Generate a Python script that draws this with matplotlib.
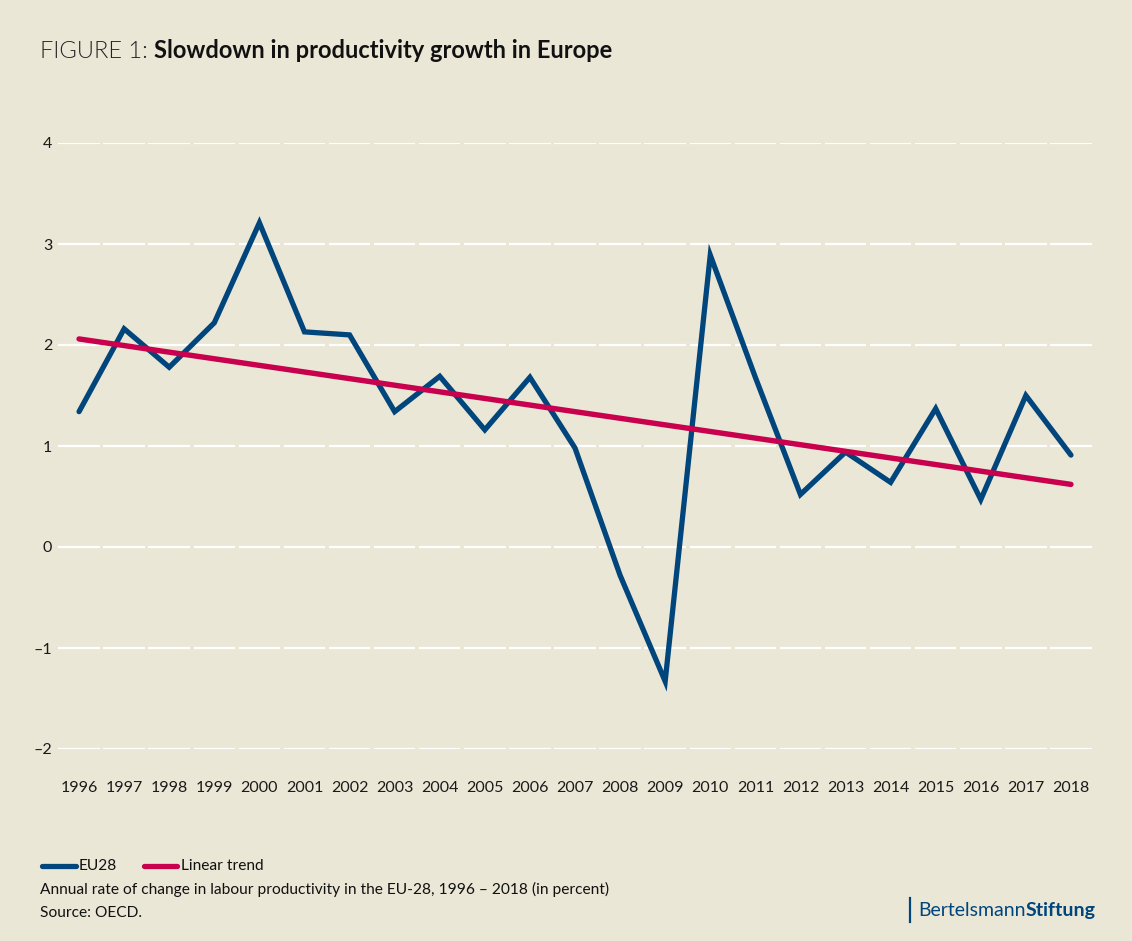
import matplotlib.pyplot as plt
import numpy as np

BG = '#ebe7d6'
BLUE = '#00457c'
RED = '#c8004e'

years = [str(y) for y in range(1996, 2019)]
eu28 = [1.34, 2.16, 1.78, 2.22, 3.21, 2.13, 2.10, 1.34, 1.69, 1.16, 1.68, 0.98,
        -0.28, -1.33, 2.89, 1.68, 0.52, 0.94, 0.64, 1.37, 0.47, 1.50, 0.91]
trend_start = 2.06
trend_end = 0.62
yticks = [-2, -1, 0, 1, 2, 3, 4]
ytick_labels = ['\u20132', '\u20131', '0', '1', '2', '3', '4']

plt.rcParams['font.family'] = ['Lato', 'DejaVu Sans']

fig = plt.figure(figsize=(11.32, 9.41), dpi=100, facecolor=BG)
ax = fig.add_axes([56.5 / 1132, 192 / 941, 1037 / 1132, 606 / 941])
ax.set_facecolor(BG)

x = np.arange(len(years))

# segmented white gridlines, one piece per category
gap = 0.04
for yv in yticks:
    ax.hlines([yv] * len(x), x - 0.5 + gap, x + 0.5 - gap, color='white', lw=1.6, zorder=1)

ax.plot(x, eu28, color=BLUE, lw=3.8, solid_joinstyle='miter', solid_capstyle='round',
        zorder=3, clip_on=False)
ax.plot([x[0], x[-1]], [trend_start, trend_end], color=RED, lw=3.9,
        solid_capstyle='round', zorder=4, clip_on=False)

ax.set_xlim(-0.5, len(years) - 0.5)
ax.set_ylim(-2, 4)
ax.set_xticks(x)
ax.set_xticklabels(years, fontsize=11.5, color='#1a1a1a')
ax.set_yticks(yticks)
ax.set_yticklabels(ytick_labels, fontsize=11.5, color='#1a1a1a')
ax.tick_params(length=0)
ax.tick_params(axis='x', pad=23)
ax.tick_params(axis='y', pad=3)
for s in ax.spines.values():
    s.set_visible(False)

# title
t1 = fig.text(40 / 1132, 1 - 58 / 941, 'FIGURE 1: ', fontsize=17, fontweight=300,
              color='#222222', va='baseline')
fig.canvas.draw()
ax.annotate('Slowdown in productivity growth in Europe', xy=(1, 0), xycoords=t1,
            fontsize=17, fontweight='bold', color='#111111', va='bottom',
            annotation_clip=False)

# legend
ly = 1 - 866 / 941
fig.lines.append(plt.Line2D([42 / 1132, 76 / 1132], [ly, ly], transform=fig.transFigure,
                            color=BLUE, lw=3.8, solid_capstyle='round'))
fig.text(79 / 1132, ly, 'EU28', fontsize=11.2, color='#111111', va='center')
fig.lines.append(plt.Line2D([144 / 1132, 177 / 1132], [ly, ly], transform=fig.transFigure,
                            color=RED, lw=3.8, solid_capstyle='round'))
fig.text(181 / 1132, ly, 'Linear trend', fontsize=11.2, color='#111111', va='center')

fig.text(40 / 1132, 1 - 889 / 941,
         'Annual rate of change in labour productivity in the EU-28, 1996 \u2013 2018 (in percent)',
         fontsize=11.2, color='#111111', va='center')
fig.text(40 / 1132, 1 - 913 / 941, 'Source: OECD.', fontsize=11.2, color='#111111', va='center')

# logo
fig.lines.append(plt.Line2D([910 / 1132, 910 / 1132], [1 - 922 / 941, 1 - 898 / 941],
                            transform=fig.transFigure, color=BLUE, lw=1.6))
t2 = fig.text(918 / 1132, 1 - 916 / 941, 'Bertelsmann', fontsize=14, color=BLUE,
              va='baseline')
ax.annotate('Stiftung', xy=(1, 0), xycoords=t2, fontsize=14, fontweight='bold',
            color=BLUE, va='bottom', annotation_clip=False)

fig.savefig('out.png', dpi=100, facecolor=BG)
